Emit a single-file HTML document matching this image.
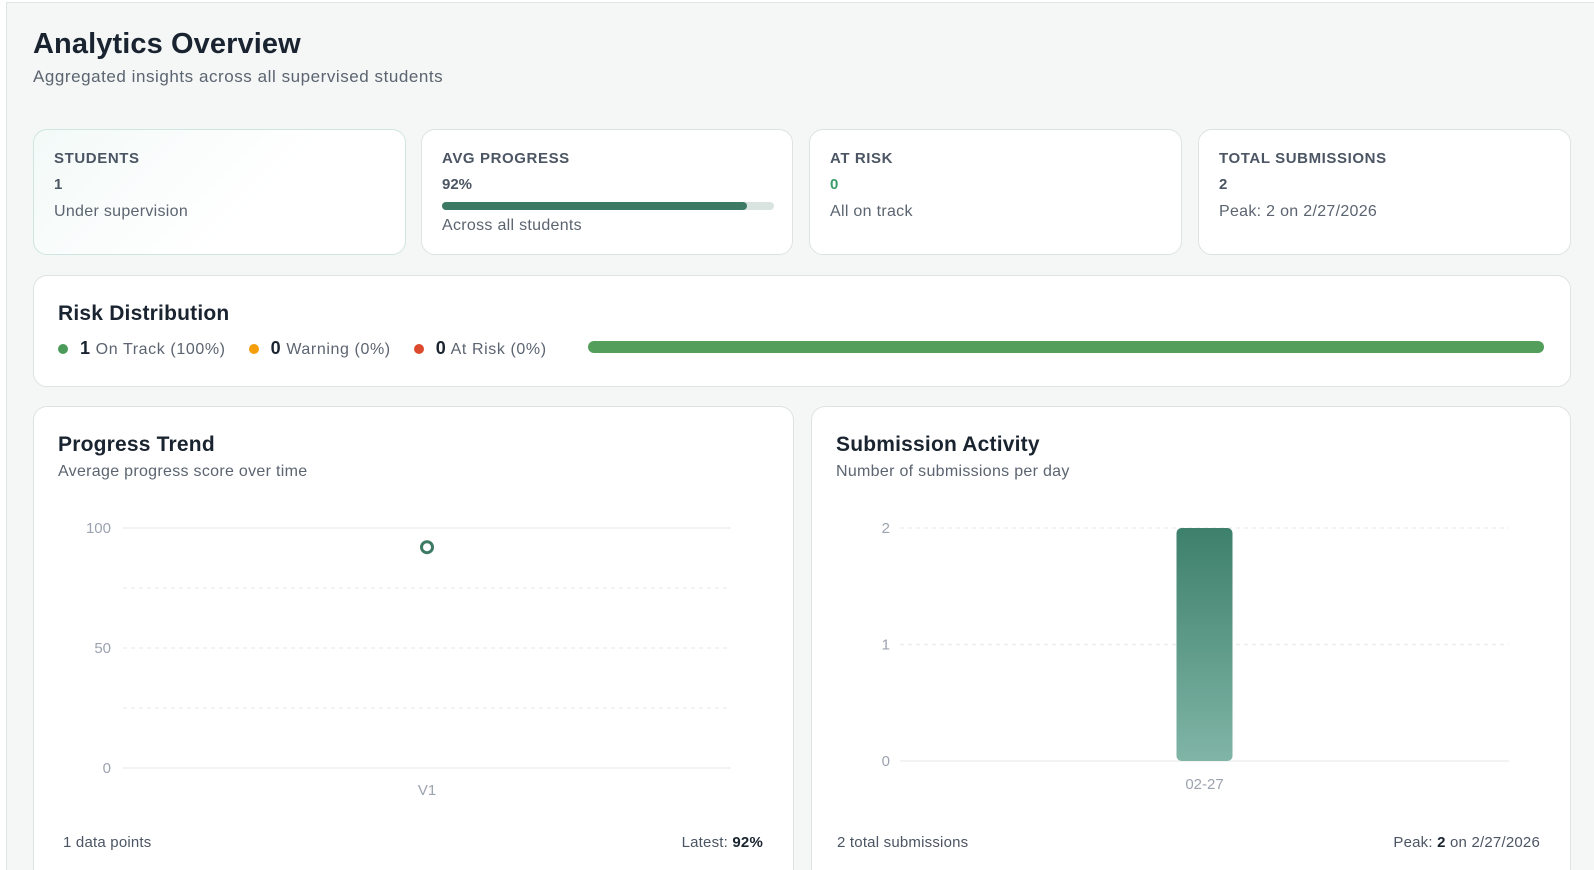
<!DOCTYPE html>
<html style="width:1594px;height:870px;overflow:hidden"><head><meta charset="utf-8"><style>
*{box-sizing:border-box;margin:0;padding:0}
html,body{width:1594px;height:870px;overflow:hidden}
body{position:relative;background:#fff;font-family:"Liberation Sans",sans-serif;color:#1f2937}
#page{position:absolute;left:6px;top:2px;width:1588px;height:868px;overflow:hidden;background:#f5f7f6;border-left:1px solid #dfe5e3;border-top:1px solid #dfe5e3}
.abs{position:absolute}
.card{position:absolute;background:#fff;border:1px solid #dde3e1;border-radius:14px}
h1{position:absolute;left:26px;top:25px;font-size:29px;font-weight:700;color:#1a2430;letter-spacing:0.1px}
.sub{position:absolute;left:26px;top:64px;font-size:17px;color:#5b6470;letter-spacing:0.55px}
.lbl{position:absolute;left:20px;top:20px;font-size:15px;font-weight:700;color:#4b5563;letter-spacing:0.6px}
.val{position:absolute;left:20px;top:46px;font-size:15px;font-weight:700;color:#4b5563}
.desc{position:absolute;left:20px;font-size:16px;color:#5b6470;letter-spacing:0.3px}
.ct{position:absolute;left:24px;top:26px;font-size:21px;font-weight:700;color:#1a2430;letter-spacing:0.2px}
.cs{position:absolute;left:24px;top:56px;font-size:16px;color:#5b6470;letter-spacing:0.3px}
.foot{position:absolute;top:427px;font-size:15px;color:#4b5563;letter-spacing:0.2px}
.cc{border-bottom:none;border-bottom-left-radius:0;border-bottom-right-radius:0;height:465px}
</style></head><body>
<div id="page">
<h1>Analytics Overview</h1>
<div class="sub">Aggregated insights across all supervised students</div>

<div class="card" style="left:26px;top:126px;width:373px;height:126px;border-color:#cfe6df;background:linear-gradient(135deg,#f3faf8,#fff 60%)">
 <div class="lbl">STUDENTS</div><div class="val">1</div><div class="desc" style="top:73px">Under supervision</div></div>
<div class="card" style="left:414px;top:126px;width:372px;height:126px">
 <div class="lbl">AVG PROGRESS</div><div class="val">92%</div>
 <div class="abs" style="left:20px;top:72px;width:332px;height:8px;border-radius:4px;background:#d9e3df"><div style="width:92%;height:100%;border-radius:4px;background:#3d7a63"></div></div>
 <div class="desc" style="top:87px">Across all students</div></div>
<div class="card" style="left:802px;top:126px;width:373px;height:126px">
 <div class="lbl">AT RISK</div><div class="val" style="color:#3a9a6a">0</div><div class="desc" style="top:73px">All on track</div></div>
<div class="card" style="left:1191px;top:126px;width:373px;height:126px">
 <div class="lbl">TOTAL SUBMISSIONS</div><div class="val">2</div><div class="desc" style="top:73px">Peak: 2 on 2/27/2026</div></div>

<div class="card" style="left:26px;top:272px;width:1538px;height:112px">
 <div class="ct" style="top:26px">Risk Distribution</div>
 <div class="abs" style="left:24px;top:62px;font-size:16px;color:#5b6470;white-space:nowrap;letter-spacing:0.6px">
  <span style="display:inline-block;width:10px;height:10px;border-radius:50%;background:#4c9a5a;margin-right:12px"></span><b style="color:#1a2430;font-size:18px">1</b> On Track (100%)
  <span style="display:inline-block;width:10px;height:10px;border-radius:50%;background:#f59e0b;margin:0 12px 0 18px"></span><b style="color:#1a2430;font-size:18px">0</b> Warning (0%)
  <span style="display:inline-block;width:10px;height:10px;border-radius:50%;background:#dc4a2e;margin:0 12px 0 18px"></span><b style="color:#1a2430;font-size:18px">0</b> At Risk (0%)
 </div>
 <div class="abs" style="left:554px;top:65px;width:956px;height:12px;border-radius:6px;background:#529e5a"></div>
</div>

<div class="card cc" style="left:26px;top:403px;width:761px">
 <div class="ct">Progress Trend</div><div class="cs">Average progress score over time</div>
 <svg id="lc" class="abs" style="left:0;top:0" width="761" height="420"></svg>
 <div class="foot" style="left:29px">1 data points</div>
 <div class="foot" style="right:30px">Latest: <b style="color:#1a2430">92%</b></div>
</div>
<div class="card cc" style="left:804px;top:403px;width:760px">
 <div class="ct">Submission Activity</div><div class="cs">Number of submissions per day</div>
 <svg id="bc" class="abs" style="left:0;top:0" width="760" height="420"><defs><linearGradient id="bg" x1="0" y1="0" x2="0" y2="1"><stop offset="0" stop-color="#3d806b"/><stop offset="1" stop-color="#80b5a6"/></linearGradient></defs></svg>
 <div class="foot" style="left:25px">2 total submissions</div>
 <div class="foot" style="right:30px">Peak: <b style="color:#1a2430">2</b> on 2/27/2026</div>
</div>
</div>
<script>
const lineCats=["V1"];
const lineVals=[92];
const lineTicks=[0,25,50,75,100];
const barCats=["02-27"];
const barVals=[2];
const barTicks=[0,1,2];
const NS="http://www.w3.org/2000/svg";
function mk(svg,t,a){const e=document.createElementNS(NS,t);for(const k in a)e.setAttribute(k,a[k]);svg.appendChild(e);return e;}
(function(){
 const svg=document.getElementById('lc');
 const x0=89,x1=697,yT=121,yB=361;
 const y=v=>yB-(v-0)/(100-0)*(yB-yT);
 const bw=(x1-x0)/lineCats.length;const x=i=>x0+bw*(i+0.5);
 lineTicks.forEach(t=>{
  const g=mk(svg,'line',{x1:x0,x2:x1,y1:y(t),y2:y(t),stroke:'#e9ecef','stroke-width':1.2});
  if(t!==0&&t!==100)g.setAttribute('stroke-dasharray','4 4');
  
  
  if(t%50===0){const l=mk(svg,'text',{x:x0-12,y:y(t)+5,'text-anchor':'end','font-size':15,fill:'#9ca3af'});l.textContent=t;
  
  }
 });
 lineCats.forEach((c,i)=>{const l=mk(svg,'text',{x:x(i),y:yB+27,'text-anchor':'middle','font-size':15,fill:'#9ca3af'});l.textContent=c;
  
  
  const p=mk(svg,'circle',{cx:x(i),cy:y(lineVals[i]),r:5.5,fill:'#fff',stroke:'#3d7a63','stroke-width':3});
  
  });
})();
(function(){
 const svg=document.getElementById('bc');
 const x0=88,x1=697,yT=121,yB=354;
 const y=v=>yB-v/2*(yB-yT);
 const bw=(x1-x0)/barCats.length;const x=i=>x0+bw*(i+0.5);
 barTicks.forEach(t=>{
  const g=mk(svg,'line',{x1:x0,x2:x1,y1:y(t),y2:y(t),stroke:'#e9ecef','stroke-width':1.2});
  if(t!==0)g.setAttribute('stroke-dasharray','4 4');
  
  
  const l=mk(svg,'text',{x:x0-10,y:y(t)+5,'text-anchor':'end','font-size':15,fill:'#9ca3af'});l.textContent=t;
  
  
 });
 barCats.forEach((c,i)=>{
  const w=56;const r=mk(svg,'rect',{x:x(i)-w/2,y:y(barVals[i]),width:w,height:yB-y(barVals[i]),rx:5,fill:'url(#bg)'});
  
  
  const l=mk(svg,'text',{x:x(i),y:yB+28,'text-anchor':'middle','font-size':15,fill:'#9ca3af'});l.textContent=c;
  
  
 });
})();
</script>
</body></html>
